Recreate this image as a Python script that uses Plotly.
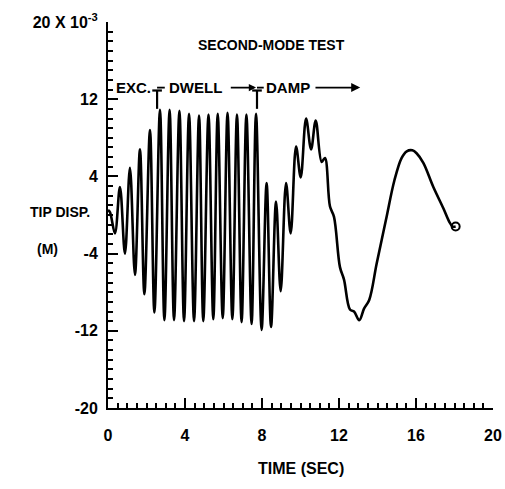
import plotly.graph_objects as go

# Time (s) and tip displacement (x 1e-3 m)
time_s = [0, 0.1, 0.36, 0.62, 0.88, 1.14, 1.40, 1.66, 1.89, 2.18, 2.41, 2.70, 2.93,
          3.20, 3.43, 3.71, 3.95, 4.21, 4.47, 4.73, 4.95, 5.22, 5.47, 5.70, 5.96,
          6.21, 6.46, 6.70, 6.94, 7.19, 7.46, 7.69, 7.98, 8.24, 8.47, 8.73, 8.97,
          9.25, 9.49, 9.77, 10.01, 10.29, 10.55, 10.79, 11.10, 11.27, 11.53, 11.74,
          12.05, 12.26, 12.57, 12.78, 13.05, 13.30, 13.57, 13.96, 14.44, 14.88,
          15.25, 15.52, 15.81, 16.03, 16.38, 16.90, 17.42, 17.73, 17.90, 18.06]
tip_disp = [0.5, 0.3, -1.9, 2.9, -4.0, 4.9, -6.2, 6.8, -8.2, 8.8, -10.1, 10.9, -10.9,
            10.9, -10.9, 10.8, -11.0, 10.5, -11.0, 10.3, -11.0, 10.4, -10.8, 10.5, -10.7,
            10.6, -10.8, 10.4, -11.1, 10.4, -11.3, 10.5, -11.9, 3.3, -11.6, 1.4, -7.9,
            3.3, -1.9, 7.1, 3.9, 10.0, 6.8, 9.8, 5.5, 5.9, 0.9, -0.2,
            -5.4, -6.7, -9.8, -10.0, -10.9, -9.7, -8.8, -5.0, -0.5, 3.6,
            5.9, 6.6, 6.7, 6.4, 5.4, 2.9, 0.7, -0.7, -1.2, -1.2]

x_range = [0, 20]
y_range = [-20, 20]
x_tick_step = 4
x_minor_step = 0.5
y_tick_start = -20
y_tick_step = 8
y_minor_step = 1
y_label_alias = {"20": "20 X 10<sup>-3</sup>", "−20": "-20", "−12": "-12", "−4": "-4"}

phase_marks = [2.55, 7.74]          # EXC./DWELL and DWELL/DAMP boundaries
phase_labels = ["EXC.", "DWELL", "DAMP"]
phase_label_x = [1.3, 4.55, 9.35]

FONT = "Liberation Sans"
fnt = dict(family=FONT, size=15, color="black", weight="bold")
tfnt = dict(family=FONT, size=16, color="black", weight="bold")
lfnt = dict(family=FONT, size=14, color="black", weight="bold")

fig = go.Figure()
fig.add_trace(go.Scatter(x=time_s, y=tip_disp, mode="lines",
                         line=dict(color="black", width=2.6, shape="spline", smoothing=1.0),
                         showlegend=False, hoverinfo="skip"))
fig.add_trace(go.Scatter(x=[time_s[-1]], y=[tip_disp[-1]], mode="markers",
                         marker=dict(symbol="circle-open", size=8, color="black",
                                     line=dict(width=2, color="black")),
                         showlegend=False, hoverinfo="skip"))
# invisible trace carrying the minor-tick overlay axes
fig.add_trace(go.Scatter(x=[time_s[0]], y=[tip_disp[0]], xaxis="x2", yaxis="y2",
                         mode="markers", marker=dict(opacity=0), showlegend=False,
                         hoverinfo="skip"))

label_y = 13.2
for xl, txt in zip(phase_label_x, phase_labels):
    fig.add_annotation(x=xl, y=label_y, text=txt, showarrow=False,
                       font=fnt, xanchor="center", yanchor="middle")

# T-shaped phase markers
for xm in phase_marks:
    fig.add_shape(type="line", x0=xm, x1=xm, y0=11.0, y1=12.9,
                  line=dict(color="black", width=2.2))
    fig.add_shape(type="line", x0=xm - 0.25, x1=xm + 0.25, y0=12.9, y1=12.9,
                  line=dict(color="black", width=2.2))
# dash from first T to DWELL
fig.add_shape(type="line", x0=phase_marks[0], x1=phase_marks[0] + 0.4, y0=label_y, y1=label_y,
              line=dict(color="black", width=1.8))
# DWELL arrow to second T
fig.add_annotation(x=phase_marks[1] - 0.05, y=label_y, ax=6.3, ay=label_y,
                   xref="x", yref="y", axref="x", ayref="y", text="", showarrow=True,
                   arrowhead=2, arrowsize=0.8, arrowwidth=1.8, arrowcolor="black")
# dash from second T to DAMP
fig.add_shape(type="line", x0=phase_marks[1], x1=phase_marks[1] + 0.35, y0=label_y, y1=label_y,
              line=dict(color="black", width=1.8))
# DAMP arrow
fig.add_annotation(x=13.1, y=label_y, ax=10.7, ay=label_y,
                   xref="x", yref="y", axref="x", ayref="y", text="", showarrow=True,
                   arrowhead=2, arrowsize=1, arrowwidth=1.8, arrowcolor="black")

fig.add_annotation(x=8.5, y=17.6, text="SECOND-MODE TEST", showarrow=False, font=lfnt)
fig.add_annotation(x=-0.125, y=0.508, xref="paper", yref="paper", text="TIP DISP.",
                   xanchor="center", yanchor="middle", showarrow=False, font=lfnt)
fig.add_annotation(x=-0.156, y=0.412, xref="paper", yref="paper", text="(M)",
                   xanchor="center", yanchor="middle", showarrow=False, font=lfnt)
fig.add_annotation(x=10, y=-0.158, xref="x", yref="paper", text="TIME (SEC)",
                   xanchor="center", yanchor="middle", showarrow=False,
                   font=dict(family=FONT, size=16, color="black", weight="bold"))

common = dict(showgrid=False, zeroline=False, automargin=False, tickcolor="#000000")
fig.update_layout(
    xaxis=dict(range=x_range, tickmode="linear", tick0=0, dtick=x_tick_step,
               ticks="inside", ticklen=10, tickwidth=2, ticklabelstandoff=12,
               showline=True, linecolor="black", linewidth=2, tickfont=tfnt, **common),
    yaxis=dict(range=y_range, tickmode="linear", tick0=y_tick_start, dtick=y_tick_step,
               labelalias=y_label_alias, ticks="inside", ticklen=10, tickwidth=2,
               ticklabelstandoff=5,
               showline=True, linecolor="black", linewidth=2, tickfont=tfnt, **common),
    xaxis2=dict(range=x_range, overlaying="x", anchor="y", side="bottom",
                tickmode="linear", tick0=0, dtick=x_minor_step, ticks="inside",
                ticklen=5, tickwidth=1.5, showticklabels=False, showline=False, **common),
    yaxis2=dict(range=y_range, overlaying="y", anchor="x", side="left",
                tickmode="linear", tick0=0, dtick=y_minor_step, ticks="inside",
                ticklen=5, tickwidth=1.5, showticklabels=False, showline=False, **common),
    width=505, height=489, autosize=False,
    margin=dict(l=108, r=12, t=22, b=81),
    plot_bgcolor="white", paper_bgcolor="white")

fig.write_html("out.html", config={"displayModeBar": False},
               post_script="document.body.style.margin='0';")
